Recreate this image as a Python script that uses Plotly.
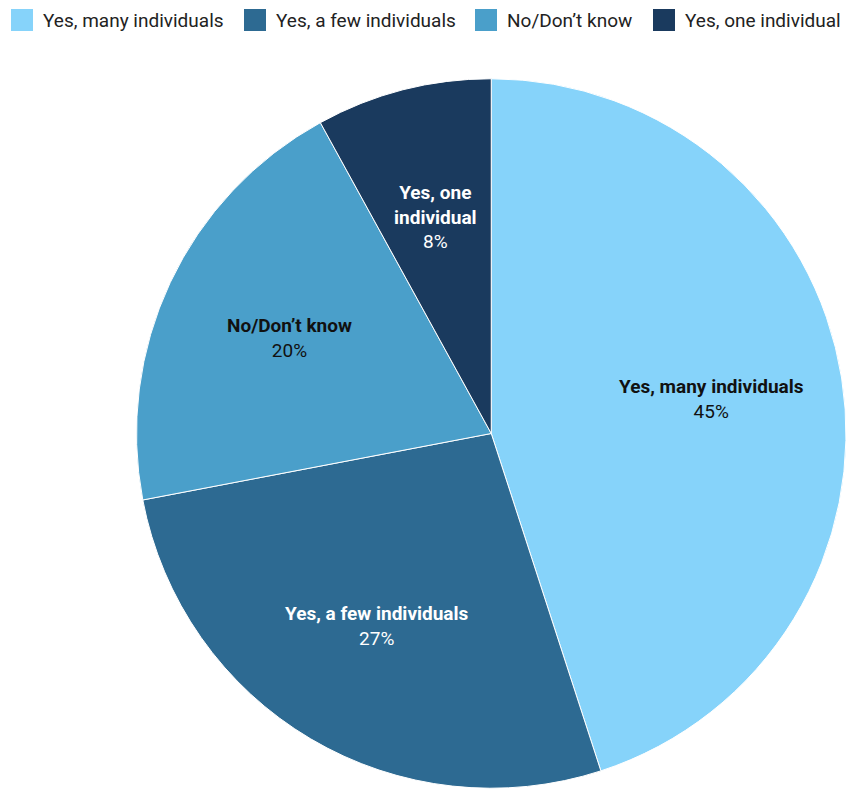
import math
import plotly.graph_objects as go

# Survey responses
categories = ["Yes, many individuals", "Yes, a few individuals", "No/Don\u2019t know", "Yes, one individual"]
slice_text = ["Yes, many individuals", "Yes, a few individuals", "No/Don\u2019t know", "Yes, one<br>individual"]
values = [45, 27, 20, 8]
colors = ["#86D3FA", "#2D6A92", "#4A9FCA", "#1A3A5E"]
text_colors = ["#111111", "#FFFFFF", "#111111", "#FFFFFF"]

W, H = 846, 789
TOP = 78
plot_h = H - TOP
r_px = plot_h / 2
x0_px = 492 - r_px

fig = go.Figure(go.Pie(
    labels=categories,
    values=values,
    sort=False,
    direction="clockwise",
    rotation=0,
    marker=dict(colors=colors, line=dict(color="#FFFFFF", width=1)),
    textinfo="none",
    hoverinfo="label+percent",
    showlegend=False,
    domain=dict(x=[x0_px / W, 1], y=[0, 1]),
))

# Pie geometry in paper units (plot area spans full width, top margin only)
dom_w = W - x0_px
r_eff = min(dom_w, plot_h) / 2
cx_px = x0_px + dom_w / 2
cy_px = TOP + plot_h / 2

annotations = []
total = sum(values)
cum = 0
for val, txt, tc in zip(values, slice_text, text_colors):
    mid = (cum + val / 2) / total * 2 * math.pi  # clockwise from 12 o'clock
    cum += val
    dist = 0.63 * r_eff
    px = cx_px + dist * math.sin(mid)
    py = cy_px - dist * math.cos(mid)
    annotations.append(dict(
        text=f"<b>{txt}</b><br>{val}%",
        xref="paper", yref="paper",
        x=px / W, y=(H - py) / plot_h,
        xanchor="center", yanchor="middle", showarrow=False, align="center",
        font=dict(family="Roboto", size=19, color=tc),
    ))

# Legend row along the top
legend_x = [11, 244, 475, 653]
sq = 22
ly = 20
shapes = []
for lx, name, col in zip(legend_x, categories, colors):
    shapes.append(dict(type="rect", xref="paper", yref="paper",
                       x0=lx / W, x1=(lx + sq) / W,
                       y0=(H - ly - sq / 2) / plot_h, y1=(H - ly + sq / 2) / plot_h,
                       fillcolor=col, line=dict(width=0)))
    annotations.append(dict(text=name, xref="paper", yref="paper",
                            x=(lx + sq + 8) / W, y=(H - ly) / plot_h,
                            xanchor="left", yanchor="middle", showarrow=False,
                            font=dict(family="Roboto", size=19, color="#222222")))

fig.update_layout(
    width=W, height=H,
    margin=dict(l=0, r=0, t=TOP, b=0),
    paper_bgcolor="#FFFFFF",
    plot_bgcolor="#FFFFFF",
    shapes=shapes,
    annotations=annotations,
)

fig.write_html("out.html")
